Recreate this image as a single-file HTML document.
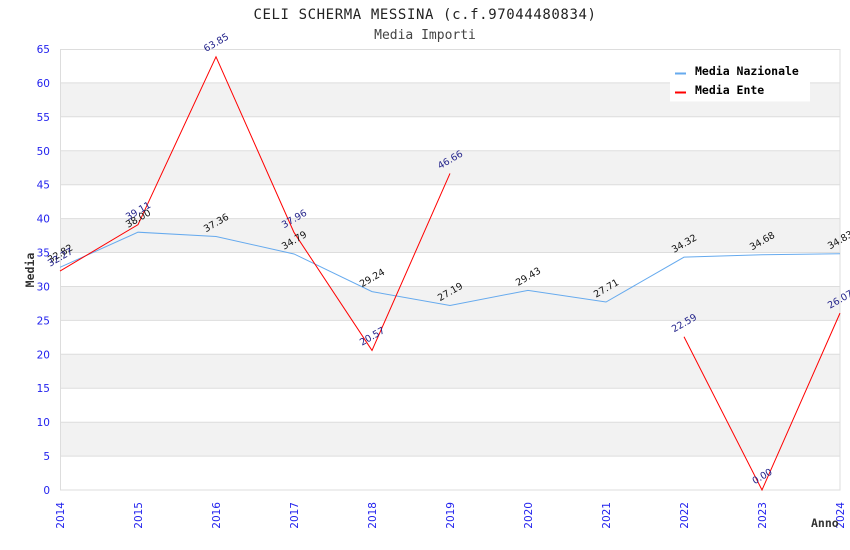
<!DOCTYPE html>
<html>
<head>
<meta charset="utf-8">
<style>
html,body{margin:0;padding:0;background:#fff;}
svg{display:block;}
</style>
</head>
<body>
<svg width="850" height="550" viewBox="0 0 850 550" xmlns="http://www.w3.org/2000/svg">
  <rect x="0" y="0" width="850" height="550" fill="#fff"/>
  <!-- bands -->
  <g fill="#f2f2f2">
    <rect x="60" y="82.9" width="780" height="33.92"/>
    <rect x="60" y="150.8" width="780" height="33.92"/>
    <rect x="60" y="218.6" width="780" height="33.92"/>
    <rect x="60" y="286.5" width="780" height="33.92"/>
    <rect x="60" y="354.3" width="780" height="33.92"/>
    <rect x="60" y="422.2" width="780" height="33.92"/>
  </g>
  <!-- gridlines -->
  <g stroke="#dddddd" stroke-width="1">
    <line x1="60" y1="82.9" x2="840" y2="82.9"/>
    <line x1="60" y1="116.8" x2="840" y2="116.8"/>
    <line x1="60" y1="150.8" x2="840" y2="150.8"/>
    <line x1="60" y1="184.7" x2="840" y2="184.7"/>
    <line x1="60" y1="218.6" x2="840" y2="218.6"/>
    <line x1="60" y1="252.5" x2="840" y2="252.5"/>
    <line x1="60" y1="286.5" x2="840" y2="286.5"/>
    <line x1="60" y1="320.4" x2="840" y2="320.4"/>
    <line x1="60" y1="354.3" x2="840" y2="354.3"/>
    <line x1="60" y1="388.2" x2="840" y2="388.2"/>
    <line x1="60" y1="422.2" x2="840" y2="422.2"/>
    <line x1="60" y1="456.1" x2="840" y2="456.1"/>
  </g>
  <rect x="60.5" y="49.5" width="779.5" height="440.5" fill="none" stroke="#dddddd" stroke-width="1"/>

  <!-- title -->
  <text x="425" y="19" text-anchor="middle" font-family="DejaVu Sans Mono, Liberation Mono, monospace" font-size="14" letter-spacing="0.6" fill="#222">CELI SCHERMA MESSINA (c.f.97044480834)</text>
  <text x="425" y="39" text-anchor="middle" font-family="DejaVu Sans Mono, Liberation Mono, monospace" font-size="13" fill="#444">Media Importi</text>

  <!-- y ticks -->
  <g font-family="DejaVu Sans, Liberation Sans, sans-serif" font-size="10.5" fill="#2222ee" text-anchor="end">
    <text x="50" y="53">65</text>
    <text x="50" y="86.9">60</text>
    <text x="50" y="120.8">55</text>
    <text x="50" y="154.8">50</text>
    <text x="50" y="188.7">45</text>
    <text x="50" y="222.6">40</text>
    <text x="50" y="256.5">35</text>
    <text x="50" y="290.5">30</text>
    <text x="50" y="324.4">25</text>
    <text x="50" y="358.3">20</text>
    <text x="50" y="392.2">15</text>
    <text x="50" y="426.2">10</text>
    <text x="50" y="460.1">5</text>
    <text x="50" y="494">0</text>
  </g>

  <!-- x ticks -->
  <g font-family="DejaVu Sans, Liberation Sans, sans-serif" font-size="10.5" fill="#2222ee" text-anchor="end">
    <text transform="translate(64,502) rotate(-90)">2014</text>
    <text transform="translate(142,502) rotate(-90)">2015</text>
    <text transform="translate(220,502) rotate(-90)">2016</text>
    <text transform="translate(298,502) rotate(-90)">2017</text>
    <text transform="translate(376,502) rotate(-90)">2018</text>
    <text transform="translate(454,502) rotate(-90)">2019</text>
    <text transform="translate(532,502) rotate(-90)">2020</text>
    <text transform="translate(610,502) rotate(-90)">2021</text>
    <text transform="translate(688,502) rotate(-90)">2022</text>
    <text transform="translate(766,502) rotate(-90)">2023</text>
    <text transform="translate(844,502) rotate(-90)">2024</text>
  </g>

  <!-- axis titles -->
  <text transform="translate(34,270) rotate(-90)" text-anchor="middle" font-family="DejaVu Sans Mono, Liberation Mono, monospace" font-weight="bold" font-size="11.5" fill="#333">Media</text>
  <text x="811" y="527" font-family="DejaVu Sans Mono, Liberation Mono, monospace" font-weight="bold" font-size="11.5" fill="#333">Anno</text>

  <!-- series -->
  <polyline fill="none" stroke="#66aaee" stroke-width="1" points="60,267.33 138,232.19 216,236.53 294,253.96 372,291.62 450,305.53 528,290.33 606,302 684,257.15 762,254.71 840,253.69"/>
  <polyline fill="none" stroke="#ff0000" stroke-width="1" points="60,271.06 138,224.65 216,56.8 294,232.46 372,350.44 450,173.43"/>
  <polyline fill="none" stroke="#ff0000" stroke-width="1" points="684,336.74 762,490 840,313.13"/>

  <!-- labels Nazionale -->
  <g font-family="DejaVu Sans, Liberation Sans, sans-serif" font-size="9.5" fill="#111" text-anchor="middle">
    <text transform="translate(60,253.3) rotate(-30)" y="3.5">32.82</text>
    <text transform="translate(138,218.2) rotate(-30)" y="3.5">38.00</text>
    <text transform="translate(216,222.5) rotate(-30)" y="3.5">37.36</text>
    <text transform="translate(294,240) rotate(-30)" y="3.5">34.79</text>
    <text transform="translate(372,277.6) rotate(-30)" y="3.5">29.24</text>
    <text transform="translate(450,291.5) rotate(-30)" y="3.5">27.19</text>
    <text transform="translate(528,276.3) rotate(-30)" y="3.5">29.43</text>
    <text transform="translate(606,288) rotate(-30)" y="3.5">27.71</text>
    <text transform="translate(684,243.2) rotate(-30)" y="3.5">34.32</text>
    <text transform="translate(762,240.7) rotate(-30)" y="3.5">34.68</text>
    <text transform="translate(840,239.7) rotate(-30)" y="3.5">34.83</text>
  </g>
  <!-- labels Ente -->
  <g font-family="DejaVu Sans, Liberation Sans, sans-serif" font-size="9.5" fill="#22228a" text-anchor="middle">
    <text transform="translate(60,257) rotate(-30)" y="3.5">32.27</text>
    <text transform="translate(138,210.6) rotate(-30)" y="3.5">39.11</text>
    <text transform="translate(216,42.3) rotate(-30)" y="3.5">63.85</text>
    <text transform="translate(294,218.5) rotate(-30)" y="3.5">37.96</text>
    <text transform="translate(372,336) rotate(-30)" y="3.5">20.57</text>
    <text transform="translate(450,159.4) rotate(-30)" y="3.5">46.66</text>
    <text transform="translate(684,322.7) rotate(-30)" y="3.5">22.59</text>
    <text transform="translate(762,476) rotate(-30)" y="3.5">0.00</text>
    <text transform="translate(840,299.1) rotate(-30)" y="3.5">26.07</text>
  </g>

  <!-- legend -->
  <rect x="670" y="59" width="140" height="42.5" fill="#fff"/>
  <rect x="675" y="72.5" width="11" height="2" fill="#66aaee"/>
  <rect x="675" y="91.5" width="11" height="2" fill="#ff0000"/>
  <g font-family="DejaVu Sans Mono, Liberation Mono, monospace" font-weight="bold" font-size="11.5" fill="#000">
    <text x="695" y="75">Media Nazionale</text>
    <text x="695" y="94">Media Ente</text>
  </g>
</svg>
</body>
</html>
